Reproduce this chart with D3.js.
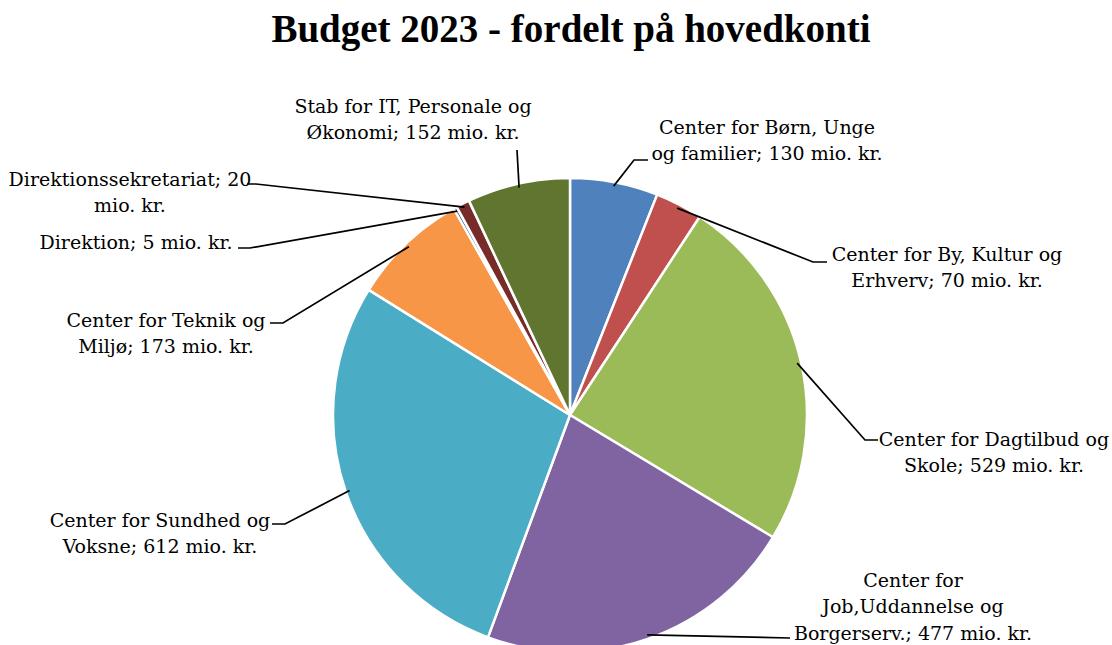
<!DOCTYPE html>
<html>
<head>
<meta charset="utf-8">
<script src="https://cdn.jsdelivr.net/npm/d3@7"></script>
<style>
  body { margin: 0; background: #fff; }
  svg { display: block; }
  text { font-family: "DejaVu Serif", "Liberation Serif", serif; fill: #000; }
</style>
</head>
<body>
<svg id="chart"></svg>
<script>
// data
const categories = [
  'Center for Børn, Unge og familier',
  'Center for By, Kultur og Erhverv',
  'Center for Dagtilbud og Skole',
  'Center for Job,Uddannelse og Borgerserv.',
  'Center for Sundhed og Voksne',
  'Center for Teknik og Miljø',
  'Direktion',
  'Direktionssekretariat',
  'Stab for IT, Personale og Økonomi'
]
const values = [130, 70, 529, 477, 612, 173, 5, 20, 152]
// label text as wrapped in the chart
const labelLines = [
  ['Center for Børn, Unge', 'og familier; 130 mio. kr.'],
  ['Center for By, Kultur og', 'Erhverv; 70 mio. kr.'],
  ['Center for Dagtilbud og', 'Skole; 529 mio. kr.'],
  ['Center for', 'Job,Uddannelse og', 'Borgerserv.; 477 mio. kr.'],
  ['Center for Sundhed og', 'Voksne; 612 mio. kr.'],
  ['Center for Teknik og', 'Miljø; 173 mio. kr.'],
  ['Direktion; 5 mio. kr.'],
  ['Direktionssekretariat; 20', 'mio. kr.'],
  ['Stab for IT, Personale og', 'Økonomi; 152 mio. kr.']
]
const colors = ['#4F81BD', '#C0504D', '#9BBB59', '#8064A2', '#4BACC6', '#F79646', '#2C4D75', '#772C2A', '#5F7530']

// layout: label block centre x, first line y, leader elbow, stub direction
const labelLayout = [
  { x: 767, y: 127, elbow: [634, 160], stub: 14 },
  { x: 947, y: 254, elbow: [813, 262], stub: 14 },
  { x: 994, y: 439, elbow: [865, 440], stub: 13 },
  { x: 913, y: 580, elbow: [790, 638], stub: 0 },
  { x: 160, y: 520, elbow: [285, 524], stub: -13 },
  { x: 166, y: 320, elbow: [283, 323], stub: -13 },
  { x: 136, y: 242, elbow: [250, 248], stub: -12 },
  { x: 130, y: 179, elbow: [256, 184], stub: -9 },
  { x: 413, y: 106, elbow: [517, 150], stub: 0 }
]

const width = 1112, height = 645
const cx = 570, cy = 415, radius = 237
const lineH = 26.5

const svg = d3.select('#chart')
  .attr('width', width)
  .attr('height', height)

svg.append('text')
  .attr('x', 571)
  .attr('y', 42)
  .attr('text-anchor', 'middle')
  .style('font-family', '"Liberation Serif", serif')
  .style('font-weight', 'bold')
  .style('font-size', '39px')
  .text('Budget 2023 - fordelt på hovedkonti')

const pie = d3.pie().sort(null).value(d => d)
const arcs = pie(values)
const arc = d3.arc().innerRadius(0).outerRadius(radius)

const g = svg.append('g').attr('transform', `translate(${cx},${cy})`)

g.selectAll('path.slice')
  .data(arcs)
  .join('path')
  .attr('class', 'slice')
  .attr('d', arc)
  .attr('fill', (d, i) => colors[i])
  .attr('stroke', '#fff')
  .attr('stroke-width', 2.5)
  .attr('stroke-linejoin', 'round')

// leader lines
const line = d3.line()
svg.selectAll('path.leader')
  .data(arcs)
  .join('path')
  .attr('class', 'leader')
  .attr('d', (d, i) => {
    const a = (d.startAngle + d.endAngle) / 2
    const r = radius - 4
    const p0 = [cx + r * Math.sin(a), cy - r * Math.cos(a)]
    const L = labelLayout[i]
    const pts = [p0, L.elbow]
    if (L.stub) pts.push([L.elbow[0] + L.stub, L.elbow[1]])
    return line(pts)
  })
  .attr('fill', 'none')
  .attr('stroke', '#000')
  .attr('stroke-width', 1.7)

// labels
const labels = svg.selectAll('text.label')
  .data(arcs)
  .join('text')
  .attr('class', 'label')
  .attr('text-anchor', 'middle')
  .style('font-size', '19px')

labels.selectAll('tspan')
  .data((d, i) => labelLines[i].map((t, k) => ({ t, k, i })))
  .join('tspan')
  .attr('x', d => labelLayout[d.i].x)
  .attr('y', d => labelLayout[d.i].y + d.k * lineH)
  .attr('dy', '0.35em')
  .text(d => d.t)
</script>
</body>
</html>
